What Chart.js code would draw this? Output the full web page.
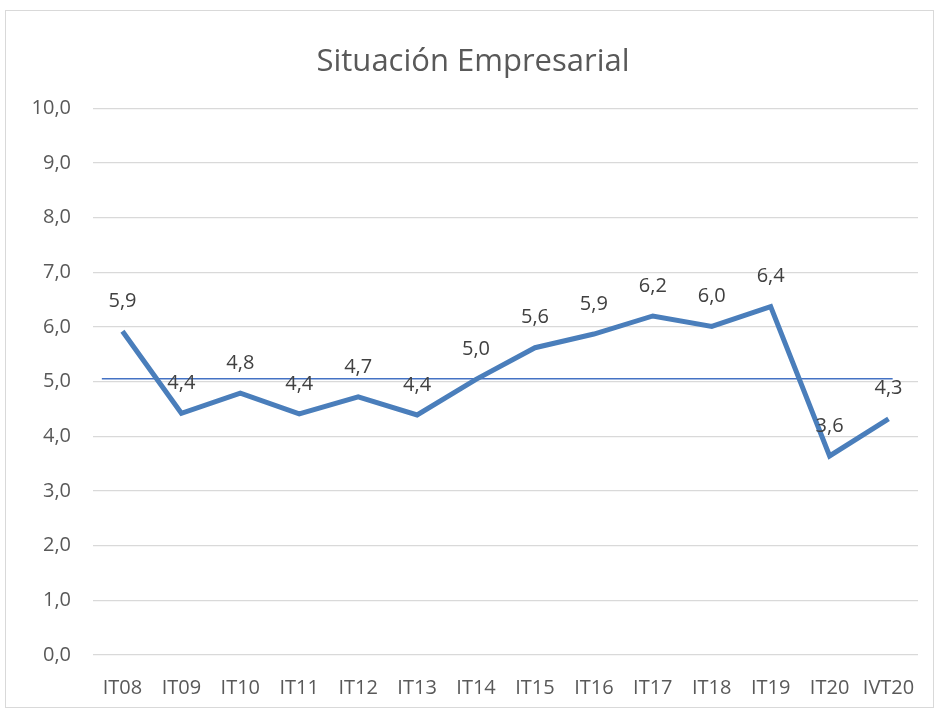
<!DOCTYPE html>
<html>
<head>
<meta charset="utf-8">
<script src="https://cdn.jsdelivr.net/npm/chart.js@4"></script>
<style>
    body { margin: 0; background: #fff; }
    #wrap { position: relative; width: 937px; height: 709px; }
    #frame { position: absolute; left: 5px; top: 10px; width: 929px; height: 698px; border: 1px solid #d9d9d9; box-sizing: border-box; }
    canvas { position: absolute; left: 0; top: 0; }
</style>
</head>
<body>
<div id="wrap">
    <div id="frame"></div>
    <canvas id="chart" width="937" height="709"></canvas>
</div>
<script>
const quarters = ['IT08', 'IT09', 'IT10', 'IT11', 'IT12', 'IT13', 'IT14', 'IT15', 'IT16', 'IT17', 'IT18', 'IT19', 'IT20', 'IVT20'];
const situacion = [5.92, 4.42, 4.79, 4.41, 4.72, 4.39, 5.04, 5.62, 5.87, 6.2, 6.01, 6.37, 3.64, 4.32];
// reference line, x in category-index units
const refLineX = [-0.35, 13.07];
const refLineY = [5.05, 5.05];
const yTicks = [0, 1, 2, 3, 4, 5, 6, 7, 8, 9, 10];

const fontFamily = '"Open Sans", "Noto Sans", sans-serif';
const fmt = v => v.toFixed(1).replace('.', ',');

// draws value labels above each point
const pointLabels = {
    id: 'pointLabels',
    afterDatasetsDraw(chart) {
        const ctx = chart.ctx;
        const meta = chart.getDatasetMeta(0);
        ctx.save();
        ctx.font = '20px ' + fontFamily;
        ctx.fillStyle = '#404040';
        ctx.textAlign = 'center';
        ctx.textBaseline = 'middle';
        meta.data.forEach((pt, i) => {
            ctx.fillText(fmt(situacion[i]), pt.x, pt.y - 30);
        });
        ctx.restore();
    }
};

new Chart(document.getElementById('chart').getContext('2d'), {
    type: 'line',
    data: {
        labels: quarters,
        datasets: [{
            label: 'Situación Empresarial',
            data: situacion,
            borderColor: '#4a7ebb',
            borderWidth: 5,
            pointRadius: 0,
            tension: 0,
            order: 1
        }, {
            label: 'Referencia',
            type: 'scatter',
            showLine: true,
            xAxisID: 'x2',
            data: refLineX.map((x, i) => ({ x: x, y: refLineY[i] })),
            borderColor: '#4472c4',
            borderWidth: 1.5,
            pointRadius: 0,
            order: 2
        }]
    },
    options: {
        responsive: false,
        animation: false,
        layout: { padding: { left: 28, right: 19, top: 0, bottom: 0 } },
        plugins: {
            legend: { display: false },
            tooltip: { enabled: false },
            title: {
                display: true,
                text: 'Situación Empresarial',
                color: '#595959',
                font: { family: fontFamily, size: 31, weight: 'normal' },
                padding: { top: 44, bottom: 27 }
            }
        },
        scales: {
            x: {
                offset: true,
                grid: { display: false, drawTicks: false },
                border: { display: false },
                ticks: { color: '#595959', font: { family: fontFamily, size: 20 }, padding: 21, maxRotation: 0, autoSkip: false },
                afterFit: axis => { axis.height = 54; }
            },
            x2: {
                type: 'linear',
                display: false,
                min: -0.5,
                max: 13.5
            },
            y: {
                min: 0,
                max: 10,
                afterBuildTicks: axis => { axis.ticks = yTicks.map(v => ({ value: v })); },
                grid: { color: '#d9d9d9', lineWidth: 1.2, drawTicks: false },
                border: { display: false },
                ticks: { color: '#595959', font: { family: fontFamily, size: 20 }, padding: 22, callback: v => fmt(v) },
                afterFit: axis => { axis.width = 65; }
            }
        }
    },
    plugins: [pointLabels]
});
</script>
</body>
</html>
